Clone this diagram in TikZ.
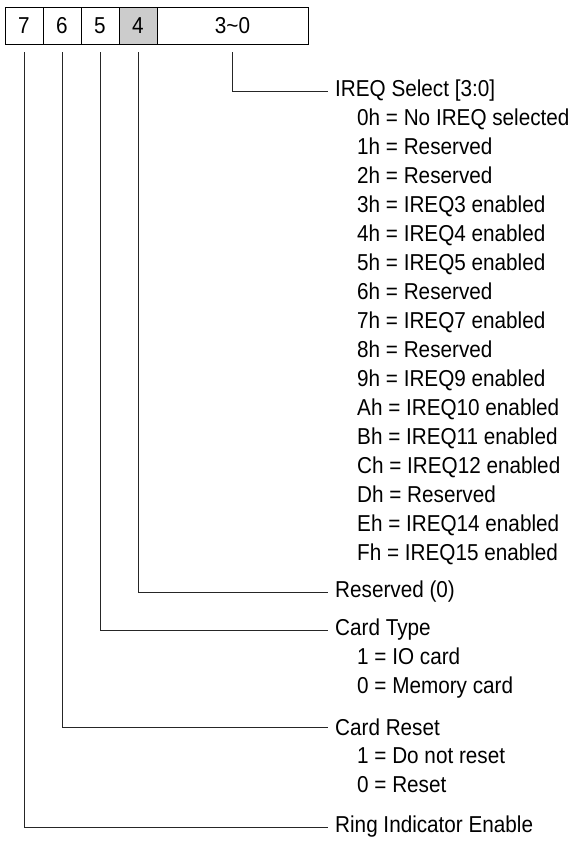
\documentclass[tikz,border=0pt]{standalone}
\usepackage{fontspec}
\setmainfont{Liberation Sans}[FakeStretch=0.9]
\usepackage{xcolor}
\usepackage{tikz}
\usetikzlibrary{positioning}

\begin{document}
\begin{tikzpicture}[x=1pt, y=-1pt,
    bitcell/.style={rectangle, draw=black, line width=0.8pt, fill=white, minimum height=37pt, minimum width=38pt, inner sep=0pt, outer sep=0pt, font=\fontsize{23}{26}\selectfont},
    fieldname/.style={anchor=west, inner xsep=7pt, inner ysep=0pt, font=\fontsize{23}{26}\selectfont},
    valuelist/.style={anchor=west, inner sep=0pt, align=left, font=\fontsize{23}{29}\selectfont},
    leader/.style={line width=0.8pt, black!85}
  ]
    \useasboundingbox (0,0) rectangle (573,844);

    % register bits
    \node[bitcell] (b7) at (24,25.5) {7};
    \node[bitcell, right=0pt of b7] (b6) {6};
    \node[bitcell, right=0pt of b6] (b5) {5};
    \node[bitcell, right=0pt of b5, fill=black!20] (b4) {4};
    \node[bitcell, right=0pt of b4, minimum width=151pt] (b30) {3\textasciitilde 0};

    % field descriptions
    \node[fieldname] (irq) at (328,91) {IREQ Select [3:0]};
    \node[valuelist] (irqvals) at (357,336.5) {
      0h = No IREQ selected\\
      1h = Reserved\\
      2h = Reserved\\
      3h = IREQ3 enabled\\
      4h = IREQ4 enabled\\
      5h = IREQ5 enabled\\
      6h = Reserved\\
      7h = IREQ7 enabled\\
      8h = Reserved\\
      9h = IREQ9 enabled\\
      Ah = IREQ10 enabled\\
      Bh = IREQ11 enabled\\
      Ch = IREQ12 enabled\\
      Dh = Reserved\\
      Eh = IREQ14 enabled\\
      Fh = IREQ15 enabled
    };
    \node[fieldname] (res) at (328,592) {Reserved (0)};
    \node[fieldname] (ctype) at (328,630) {Card Type};
    \node[valuelist] (ctypevals) at (357,673.5) {
      1 = IO card\\
      0 = Memory card
    };
    \node[fieldname] (crst) at (328,727) {Card Reset};
    \node[valuelist] (crstvals) at (357,770.5) {
      1 = Do not reset\\
      0 = Reset
    };
    \node[fieldname] (ring) at (328,827) {Ring Indicator Enable};

    % leaders from bits to descriptions
    \draw[leader] ([yshift=-8pt]b30.south) |- (irq.west);
    \draw[leader] ([yshift=-8pt]b4.south) |- (res.west);
    \draw[leader] ([yshift=-8pt]b5.south) |- (ctype.west);
    \draw[leader] ([yshift=-8pt]b6.south) |- (crst.west);
    \draw[leader] ([yshift=-8pt]b7.south) |- (ring.west);
  \end{tikzpicture}
\end{document}
